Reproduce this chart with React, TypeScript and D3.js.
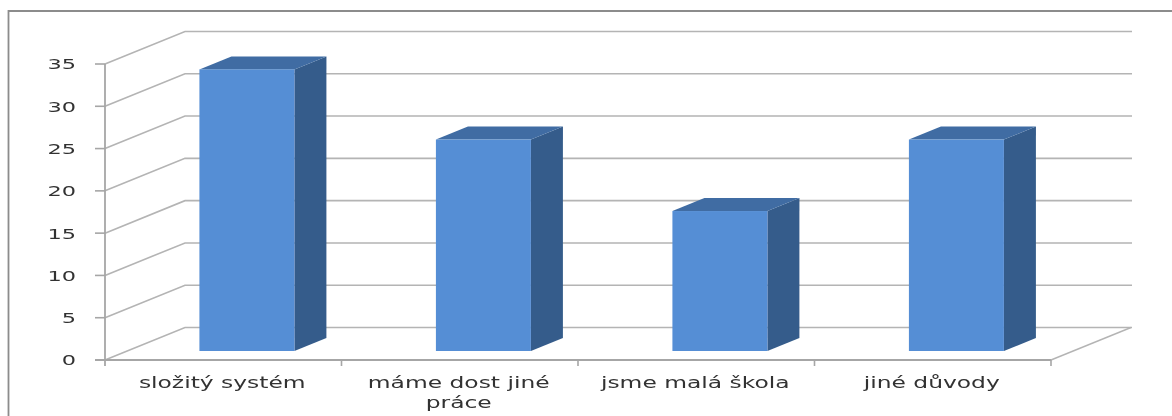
import React from "react";
import * as d3 from "d3";

const categories = ["složitý systém", "máme dost jiné práce", "jsme malá škola", "jiné důvody"];
const values = [33.3, 25, 16.55, 25];
const yTicks = [0, 5, 10, 15, 20, 25, 30, 35];

const W = 1172, H = 416;
const x0 = 105, x1 = 1051, yBase = 360, yTop = 64;
const depthX = 80, depthY = 32.5;
const barNear = 0.277, barFar = 0.677;
const barWidth = 95;

const y = d3.scaleLinear().domain([0, 35]).range([yBase, yTop]);
const x = d3.scaleBand<string>().domain(categories).range([x0, x1]);
const line = d3.line<[number, number]>();

const gridCol = "#b4b4b4";
const axisCol = "#a6a6a6";

function wrap(label: string): string[] {
  return label === "máme dost jiné práce" ? ["máme dost jiné", "práce"] : [label];
}

export default function App() {
  const band = x.bandwidth();
  return (
    <svg width={W} height={H} viewBox={`0 0 ${W} ${H}`} style={{ position: "fixed", left: 0, top: 0, background: "#fff" }}>
      <defs>
        <filter id="soft" x="-5%" y="-5%" width="110%" height="110%">
          <feGaussianBlur stdDeviation="0.55" />
        </filter>
      </defs>
      <g filter="url(#soft)">
        <path d={`M8.5 416V11H1172`} fill="none" stroke="#8c8c8c" strokeWidth={1.8} />
        {yTicks.map((t) => (
          <path
            key={t}
            d={line([[x0, y(t)], [x0 + depthX, y(t) - depthY], [x1 + depthX + 1, y(t) - depthY]])!}
            fill="none"
            stroke={gridCol}
            strokeWidth={1.6}
          />
        ))}
        <path d={line([[x1, yBase], [x1 + depthX, yBase - depthY]])!} fill="none" stroke={gridCol} strokeWidth={1.4} />
        <path d={line([[x0, yTop], [x0, yBase + 6]])!} fill="none" stroke={axisCol} strokeWidth={1.8} />
        <path d={line([[x0 - 10, yBase], [x1, yBase]])!} fill="none" stroke={axisCol} strokeWidth={1.8} />
        {yTicks.map((t) => (
          <path key={t} d={line([[x0 - 10, y(t)], [x0, y(t)]])!} fill="none" stroke={axisCol} strokeWidth={1.6} />
        ))}
        {categories.map((_, i) => {
          const tx = x0 + band * (i + 1);
          return <path key={i} d={line([[tx, yBase], [tx, yBase + 6]])!} fill="none" stroke={axisCol} strokeWidth={1.6} />;
        })}
        {categories.map((c, i) => {
          const left = x(c)! + band / 2 + barNear * depthX - barWidth / 2 + 1.5;
          const right = left + barWidth;
          const ddx = (barFar - barNear) * depthX;
          const ddy = (barFar - barNear) * depthY;
          const bottom = yBase - barNear * depthY;
          const top = bottom - (yBase - y(values[i]));
          return (
            <g key={c}>
              <path d={line([[right, top], [right + ddx, top - ddy], [right + ddx, bottom - ddy], [right, bottom]])! + "Z"} fill="#355c8b" />
              <path d={line([[left, top], [left + ddx, top - ddy], [right + ddx, top - ddy], [right, top]])! + "Z"} fill="#3f6ca3" />
              <rect x={left} y={top} width={barWidth} height={bottom - top} fill="#558ed5" />
            </g>
          );
        })}
      </g>
      <g fontFamily="'DejaVu Sans', sans-serif" fontSize={14.5} fill="#333" filter="url(#soft)">
        {yTicks.map((t) => (
          <text key={t} x={76} y={y(t) + 5.5} textAnchor="end" transform={`translate(76 0) scale(1.55 1) translate(-76 0)`}>{t}</text>
        ))}
      </g>
      <g fontFamily="'DejaVu Sans', sans-serif" fontSize={15.5} fill="#333" filter="url(#soft)">
        {categories.map((c) =>
          wrap(c).map((l, j) => {
            const cx = x(c)! + band / 2 - 1;
            return (
              <text key={l} x={cx} y={388 + j * 20} textAnchor="middle" transform={`translate(${cx} 0) scale(1.51 1) translate(${-cx} 0)`}>{l}</text>
            );
          })
        )}
      </g>
    </svg>
  );
}
